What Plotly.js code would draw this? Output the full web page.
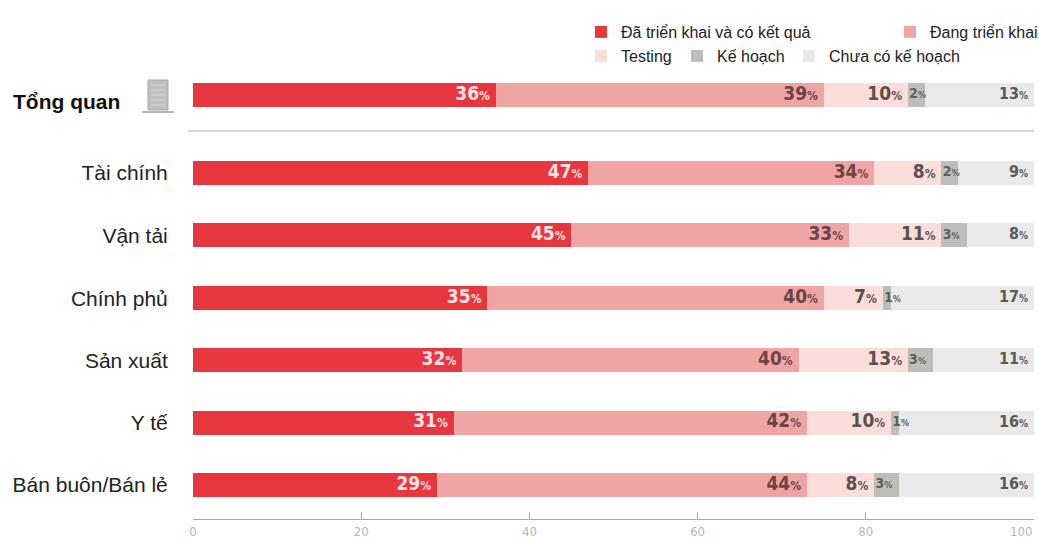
<!DOCTYPE html>
<html><head><meta charset="utf-8">
<script src="https://cdn.plot.ly/plotly-3.0.1.min.js"></script>
<style>html,body{margin:0;padding:0;background:#fff}</style></head>
<body><div id="chart" style="width:1039px;height:538px"></div>
<script>
const categories = ["Tổng quan","Tài chính","Vận tải","Chính phủ","Sản xuất","Y tế","Bán buôn/Bán lẻ"];
const rowPositions = [0,1.25,2.25,3.26,4.25,5.25,6.25];
const daTrienKhai = [36,47,45,35,32,31,29];
const dangTrienKhai = [39,34,33,40,40,42,44];
const testing = [10,8,11,7,13,10,8];
const keHoach = [2,2,3,1,3,1,3];
const chuaCoKeHoach = [13,9,8,17,11,16,16];
const xTicks = [0,20,40,60,80];
const seriesNames = ["Đã triển khai và có kết quả","Đang triển khai","Testing","Kế hoạch","Chưa có kế hoạch"];
const seriesColors = ["#E8363F","#F0A5A5","#FBDEDA","#BDBEB9","#E9E9E9"];
const textColors = ["#FBE3E3","#6E4345","#5A5050","#5E605C","#5A5A5A"];
const numFont = "'DejaVu Sans Condensed','Liberation Sans',sans-serif";
const sans = "'Liberation Sans',Arial,sans-serif";

const L=193,R=1034,T=70,B=519,W=1039,H=538;
const px=x=>(x-L)/(R-L), py=y=>(B-y)/(B-T);
const all=[daTrienKhai,dangTrienKhai,testing,keHoach,chuaCoKeHoach];
const legendPos=[[581,32],[890,32],[581,56],[677,56],[789,56]];
const traces=[], labels=[], legends={};
const cum=categories.map(()=>0);
all.forEach((vals,i)=>{
  const key=i===0?'legend':'legend'+(i+1);
  const starts=cum.slice();
  const barVals=vals.map((v,k)=>i===4?100-starts[k]:v);
  traces.push({type:'bar',orientation:'h',name:seriesNames[i],y:rowPositions,x:barVals,width:0.385,
    marker:{color:seriesColors[i],line:{width:0}},legend:key,hoverinfo:'x+name'});
  barVals.forEach((v,k)=>cum[k]+=v);
  const leftAligned=i===3;
  const small=leftAligned?9:(i===4?10:12), big=leftAligned?14:(i===4?16:19);
  labels.push({type:'scatter',mode:'text',showlegend:false,hoverinfo:'skip',
    y:rowPositions,
    x:vals.map((v,k)=>leftAligned?starts[k]+0.15:cum[k]-0.7),
    text:vals.map(v=>`<b>${v}</b><span style="font-size:${small}px"><b>%</b></span>`),
    textposition:leftAligned?'middle right':'middle left',
    textfont:{family:numFont,size:big,color:textColors[i]},cliponaxis:false});
  legends[key]={x:px(legendPos[i][0]),y:py(legendPos[i][1]),xanchor:'left',yanchor:'middle',
    bgcolor:'rgba(0,0,0,0)',borderwidth:0,font:{family:sans,size:16,color:'#222'},
    orientation:'v',itemclick:false,itemdoubleclick:false};
});

const shapes=[
 {type:'line',xref:'paper',yref:'paper',x0:px(188),x1:px(1034),y0:py(131),y1:py(131),line:{color:'#D6D6D6',width:2}},
 {type:'rect',xref:'paper',yref:'paper',x0:px(148),x1:px(168),y0:py(80),y1:py(110),fillcolor:'#BFC0BB',line:{color:'#A9AAA5',width:1}},
 {type:'line',xref:'paper',yref:'paper',x0:px(142),x1:px(174),y0:py(112),y1:py(112),line:{color:'#B5B6B1',width:2}}
];
[85,90,95,100,105].forEach(y=>shapes.push({type:'line',xref:'paper',yref:'paper',x0:px(151),x1:px(165),y0:py(y),y1:py(y),line:{color:'#D5D6D1',width:1}}));

const layout={
 width:W,height:H,paper_bgcolor:'#fff',plot_bgcolor:'#fff',barmode:'stack',showlegend:true,
 margin:{l:L,r:W-R,t:T,b:H-B,pad:0,autoexpand:false},
 xaxis:{range:[0,100],tickmode:'array',tickvals:xTicks.concat([100]),ticktext:xTicks.map(String).concat(['']),
   ticks:'inside',ticklen:7,tickcolor:'#A8A8A8',tickwidth:1,showgrid:false,zeroline:false,
   showline:true,linecolor:'#A8A8A8',linewidth:1,
   tickfont:{family:numFont,size:13,color:'#B5B5B5'},fixedrange:true,automargin:false},
 yaxis:{range:[6.795,-0.4],tickmode:'array',tickvals:rowPositions.slice(1),ticktext:categories.slice(1),
   ticks:'outside',ticklen:20,tickcolor:'rgba(0,0,0,0)',showgrid:false,zeroline:false,showline:false,
   tickfont:{family:sans,size:21,color:'#222'},fixedrange:true,automargin:false},
 shapes,
 annotations:[
  {xref:'paper',yref:'y',x:px(122),y:rowPositions[0]+0.1,xanchor:'right',yanchor:'middle',showarrow:false,
   text:'<b>'+categories[0]+'</b>',font:{family:sans,size:21,color:'#111'}},
  {xref:'x',yref:'paper',x:100,y:py(531),xanchor:'right',yanchor:'middle',showarrow:false,
   text:'100',font:{family:numFont,size:13,color:'#B5B5B5'}}
 ],
 ...legends
};
Plotly.newPlot('chart',traces.concat(labels),layout,{displayModeBar:false,staticPlot:true});
</script></body></html>
